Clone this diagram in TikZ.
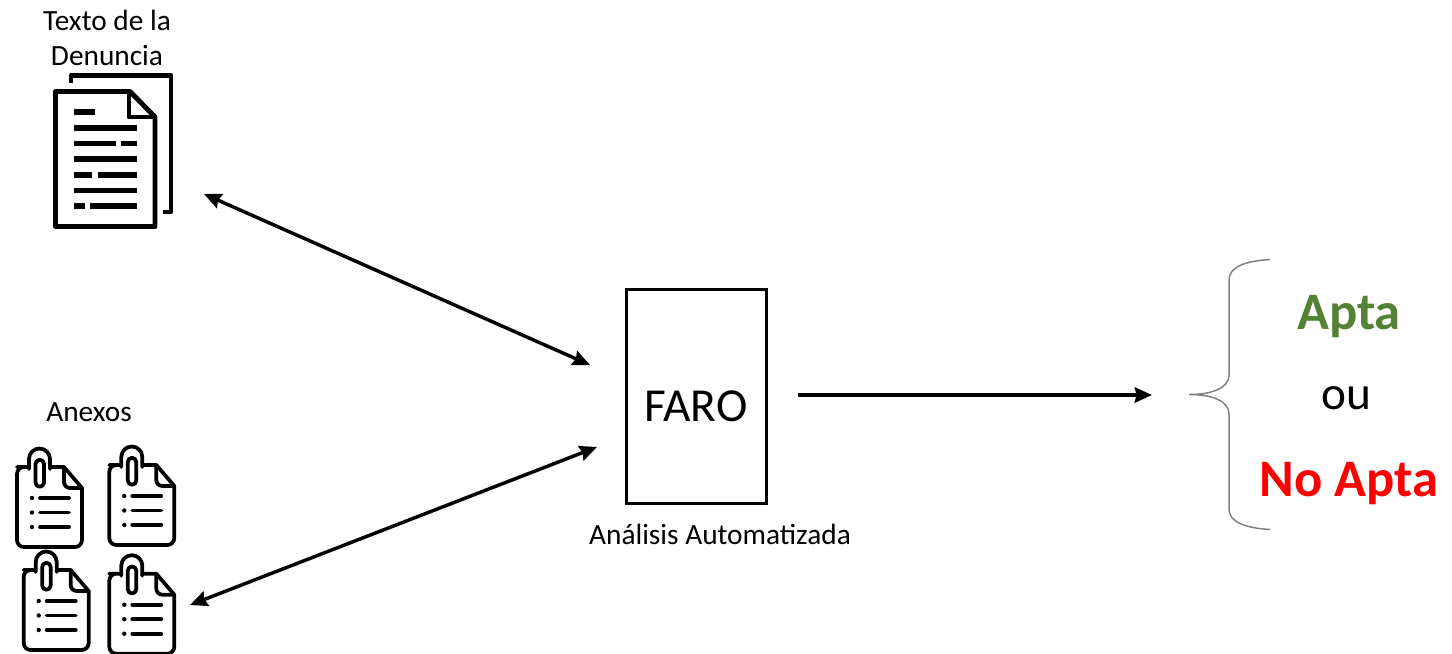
\documentclass[tikz,border=0pt]{standalone}
\usepackage{fontspec}
\usetikzlibrary{arrows.meta}
\setmainfont{Carlito}
\definecolor{aptagreen}{RGB}{84,130,53}
\tikzset{
    lbl/.style={inner sep=0pt,align=center,font=\fontsize{22}{26.25}\selectfont},
    big/.style={inner sep=0pt,font=\fontsize{35.5}{40}\selectfont},
    bigbold/.style={inner sep=0pt,font=\fontsize{39.5}{44}\selectfont\bfseries},
    link/.style={line width=2.6pt,>={Stealth[length=13pt,width=11.5pt,inset=1.5pt]}},
    ink/.style={line width=3.7pt,line join=round},
    thin ink/.style={line width=2.8pt,line join=round,line cap=round},
    clipdoc/.pic={
        \draw[thin ink] (17,467)--(64,467)--(82,488)--(82,540) arc[start angle=0,end angle=90,radius=7]--(24,547) arc[start angle=90,end angle=180,radius=7]--(17,474) arc[start angle=180,end angle=270,radius=7];
        \draw[thin ink] (64,467)--(64,482) arc[start angle=180,end angle=90,radius=6]--(82,488);
        \fill[white] (29,462) rectangle (50,470);
        \draw[thin ink] (29,469)--(29,459) arc[start angle=180,end angle=360,radius=10.5]--(50,469);
        \draw[thin ink,fill=white] (35.5,464) arc[start angle=180,end angle=360,radius=4.25]--(44,482.5) arc[start angle=0,end angle=180,radius=4.25]--cycle;
        \foreach \yy in {498,512.5,527}{
            \fill (32,\yy) circle[radius=2.2];
            \draw[thin ink] (40,\yy)--(69,\yy);
        }
    }
}
\begin{document}
\begin{tikzpicture}[x=0.75pt,y=-0.75pt]
    \useasboundingbox (0,0) rectangle (1452,653);
    % main document
    \draw[ink] (71,83)--(71,75.5)--(171,75.5)--(171,212)--(163,212);
    \draw[ink] (55.5,91.5)--(130,91.5)--(155,117)--(155,226.5)--(55.5,226.5)--cycle;
    \draw[ink] (129,91.5)--(129,117)--(155,117);
    \foreach \ya/\xa/\xb in {112/74/95,128/74/137,143.5/74/116,143.5/121/137,159/74/137,175/74/92,175/98/137,190.5/74/137,206/74/85,206/90/137}{
        \draw[line width=3.9pt] (\xa,\ya)--(\xb,\ya);
    }
    \node[lbl] (texto) at (107,38) {Texto de la\\Denuncia};
    % annexes
    \pic at (0,0) {clipdoc};
    \pic at (92.3,-2) {clipdoc};
    \pic at (6.7,103) {clipdoc};
    \pic at (92.3,106.7) {clipdoc};
    \node[lbl] (anexos) at (89,412) {Anexos};
    % centre
    \node[draw,line width=1.9pt,minimum width=105pt,minimum height=160.5pt,inner sep=0pt] (faro) at (696.5,396.5) {};
    \node[big] (farotxt) at (696,406) {FARO};
    \node[lbl] (analisis) at (720,534) {Análisis Automatizada};
    % result
    \draw[gray,line width=1.1pt] (1270,259.5) .. controls (1245,261) and (1229,267) .. (1229,280)--(1229,375) .. controls (1229,388) and (1212,394.5) .. (1189,394.5) .. controls (1212,394.5) and (1229,401) .. (1229,414)--(1229,509) .. controls (1229,522) and (1245,528) .. (1270,529.5);
    \node[bigbold,text=aptagreen] (apta) at (1349,317) {Apta};
    \node[big] (ou) at (1346,398) {ou};
    \node[bigbold,text=red] (noapta) at (1349,484) {No Apta};
    % arrows
    \coordinate (a1) at (204,194);
    \coordinate (a2) at (590,365);
    \coordinate (b1) at (190,605);
    \coordinate (b2) at (597,447);
    \coordinate (c1) at (798,395);
    \coordinate (c2) at (1152,395);
    \draw[link,<->] (a1)--(a2);
    \draw[link,<->] (b1)--(b2);
    \draw[link,->] (c1)--(c2);
\end{tikzpicture}
\end{document}
